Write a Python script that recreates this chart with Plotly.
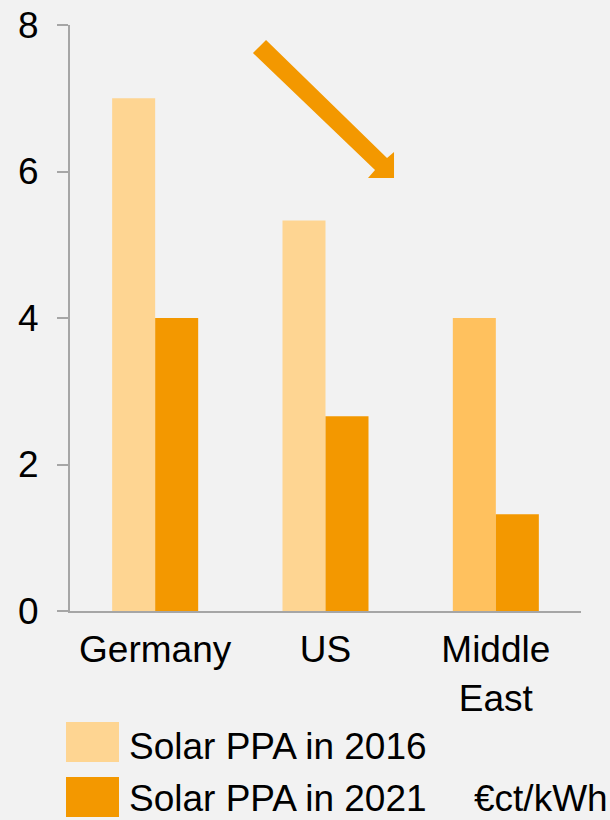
import plotly.graph_objects as go

categories = ["Germany", "US", "Middle<br>East"]
series_names = ["Solar PPA in 2016", "Solar PPA in 2021"]
ppa_2016 = [7.0, 5.33, 4.0]
ppa_2021 = [4.0, 2.66, 1.32]
y_ticks = [0, 2, 4, 6, 8]
unit_label = "€ct/kWh"

c2016 = ["#FED592", "#FED592", "#FFC15E"]
c2021 = ["#F39800", "#F39800", "#F39800"]
legend_colors = ["#FED592", "#F39800"]

FONT = "Liberation Sans, Arial, sans-serif"
AXIS = "#A6A6A6"
FS = 37

fig = go.Figure()
fig.add_trace(go.Bar(x=categories, y=ppa_2016, name=series_names[0],
                     marker=dict(color=c2016, line=dict(width=0)), showlegend=False))
fig.add_trace(go.Bar(x=categories, y=ppa_2021, name=series_names[1],
                     marker=dict(color=c2021, line=dict(width=0)), showlegend=False))

# plot area geometry (pixels) for decorations
L, R, T, B = 70, 581, 25, 611
W, H = R - L, B - T
def px(x):
    return (x - L) / W
def py(y):
    return (B - y) / H

# arrow polygon
pts = [(253, 53), (266, 40), (387, 158), (394, 152), (394, 178), (368, 178), (375, 170)]
path = "M " + " L ".join(f"{px(x):.4f},{py(y):.4f}" for x, y in pts) + " Z"
fig.add_shape(type="path", path=path, xref="paper", yref="paper",
              fillcolor="#F39800", line=dict(width=0), layer="above")

# manual legend
leg_rows = [(722, 762), (777, 817)]
leg_text_bottom = [768, 820]
for (y0, y1), yb, name, col in zip(leg_rows, leg_text_bottom, series_names, legend_colors):
    fig.add_shape(type="rect", xref="paper", yref="paper",
                  x0=px(66), x1=px(119), y0=py(y1), y1=py(y0),
                  fillcolor=col, line=dict(width=0))
    fig.add_annotation(text=name, xref="paper", yref="paper",
                       x=px(128), y=py(yb), xanchor="left", yanchor="bottom",
                       borderpad=0, showarrow=False,
                       font=dict(size=FS, color="black", family=FONT))

fig.add_annotation(text=unit_label, xref="paper", yref="paper",
                   x=px(609), y=py(820), xanchor="right", yanchor="bottom",
                   borderpad=0, showarrow=False,
                   font=dict(size=FS, color="black", family=FONT))

fig.update_layout(
    width=610, height=820,
    margin=dict(l=L, r=610 - R, t=T, b=820 - B, pad=0, autoexpand=False),
    paper_bgcolor="#F2F2F2", plot_bgcolor="#F2F2F2",
    barmode="group", bargap=0.495, bargroupgap=0,
    font=dict(family=FONT, color="black", size=FS),
    showlegend=False,
)
fig.update_xaxes(showline=True, linecolor=AXIS, linewidth=2, ticks="",
                 showgrid=False, zeroline=False, tickfont=dict(size=FS),
                 ticklabelstandoff=5, automargin=False)
fig.update_yaxes(range=[0, 8], tickvals=y_ticks, showline=True, linecolor=AXIS,
                 linewidth=2, ticks="outside", ticklen=11, tickwidth=2, tickcolor=AXIS,
                 showgrid=False, zeroline=False, tickfont=dict(size=FS),
                 ticklabelstandoff=11, automargin=False)

fig.write_html("out.html", config={"displayModeBar": False},
               post_script="document.body.style.margin='0';document.body.style.overflow='hidden';document.body.style.background='#F2F2F2';")
